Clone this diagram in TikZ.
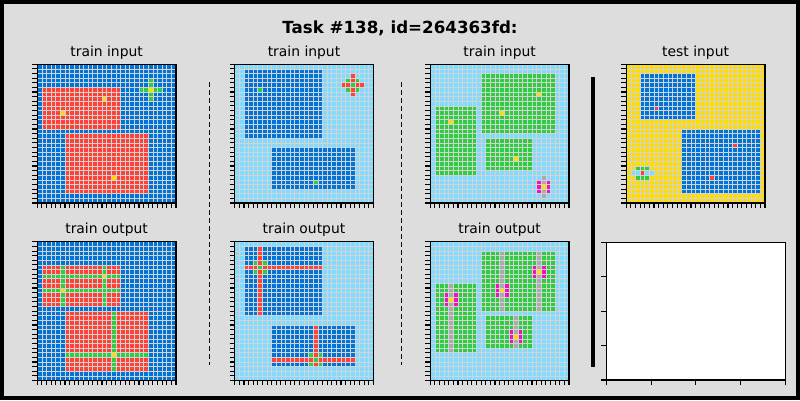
\documentclass[tikz,border=0pt]{standalone}
\usepackage{fontspec}
\setmainfont{DejaVu Sans}
\definecolor{arcblue}{HTML}{0074D9}
\definecolor{arcred}{HTML}{FF4136}
\definecolor{arcgrn}{HTML}{2ECC40}
\definecolor{arcyel}{HTML}{FFDC00}
\definecolor{arcgray}{HTML}{AAAAAA}
\definecolor{arcmag}{HTML}{F012BE}
\definecolor{arcsky}{HTML}{7FDBFF}
\definecolor{figbg}{HTML}{DDDDDD}
\definecolor{gridgrey}{HTML}{D3D3D3}
\tikzset{
  gridln/.style={draw=gridgrey, line width=0.7pt},
  axframe/.style={draw=black, line width=1.1pt},
  tickln/.style={draw=black, line width=1.1pt},
  panel/.style 2 args={shift={(#1,#2)}, x=4.6233pt, y=-4.6233pt},
  ptitle/.style={anchor=base, font=\fontsize{13.89}{16}\selectfont, inner sep=0pt},
  septline/.style={draw=black, line width=1pt, dash pattern=on 5pt off 3pt},
  bigbar/.style={draw=black, line width=4.6pt},
}
\newcommand\cc[3]{\fill[#1] (#2,#3) rectangle ++(1,1);}
\newcommand\bk[5]{\fill[#1] (#2,#3) rectangle (#4+1,#5+1);}
\newcommand\bgfill[1]{\fill[#1] (0,0) rectangle (30,30);}
\newcommand\gridover{%
  \foreach \k in {1,...,29}{\draw[gridln] (\k,0) -- (\k,30); \draw[gridln] (0,\k) -- (30,\k);}
  \draw[axframe] (0,0) rectangle (30,30);
  \foreach \k in {0,...,30}{\draw[tickln] (\k,30) -- ++(0pt,-4.86pt); \draw[tickln] (0,\k) -- ++(-4.86pt,0pt);}
}
\begin{document}
\begin{tikzpicture}[x=1pt, y=-1pt]
\useasboundingbox (0,0) rectangle (800,400);
\fill[figbg] (0,0) rectangle (800,400);
\draw[line width=4pt] (2,2) rectangle (798,398);

\node[anchor=base, font=\bfseries\fontsize{16.67}{20}\selectfont, inner sep=0pt] (title) at (400,33) {Task \#138, id=264363fd:};

% titles
\node[ptitle] (t1) at (106.6,56) {train input};
\node[ptitle] (t2) at (304.0,56) {train input};
\node[ptitle] (t3) at (499.6,56) {train input};
\node[ptitle] (t4) at (695.6,56) {test input};
\node[ptitle] (t5) at (106.6,233.5) {train output};
\node[ptitle] (t6) at (304.0,233.5) {train output};
\node[ptitle] (t7) at (499.6,233.5) {train output};

% separators
\draw[septline] (209,82) -- (209,365);
\draw[septline] (401,82) -- (401,365);
\draw[bigbar] (593,77) -- (593,367);

% ---------- train input 1
\begin{scope}[panel={37.3}{64.3}]
\bgfill{arcblue}
\bk{arcred}{1}{5}{17}{13}
\bk{arcred}{6}{15}{23}{27}
\cc{arcyel}{14}{7} \cc{arcyel}{5}{10} \cc{arcyel}{16}{24}
\bk{arcgrn}{24}{3}{24}{7} \bk{arcgrn}{22}{5}{26}{5} \cc{arcyel}{24}{5}
\gridover
\end{scope}

% ---------- train output 1
\begin{scope}[panel={37.3}{241.8}]
\bgfill{arcblue}
\bk{arcred}{1}{5}{17}{13}
\bk{arcred}{6}{15}{23}{27}
\bk{arcgrn}{14}{5}{14}{13} \bk{arcgrn}{5}{5}{5}{13}
\bk{arcgrn}{1}{7}{17}{7} \bk{arcgrn}{1}{10}{17}{10}
\cc{arcyel}{14}{7} \cc{arcyel}{5}{10}
\bk{arcgrn}{16}{15}{16}{27} \bk{arcgrn}{6}{24}{23}{24}
\cc{arcyel}{16}{24}
\gridover
\end{scope}

% ---------- train input 2
\begin{scope}[panel={234.7}{64.3}]
\bgfill{arcsky}
\bk{arcblue}{2}{1}{18}{15} \bk{arcblue}{8}{18}{25}{26}
\cc{arcgrn}{5}{5} \cc{arcgrn}{17}{25}
\bk{arcred}{25}{2}{25}{6} \bk{arcred}{23}{4}{27}{4}
\cc{arcgrn}{25}{4} \cc{arcgrn}{24}{3} \cc{arcgrn}{26}{3} \cc{arcgrn}{24}{5} \cc{arcgrn}{26}{5}
\gridover
\end{scope}

% ---------- train output 2
\begin{scope}[panel={234.7}{241.8}]
\bgfill{arcsky}
\bk{arcblue}{2}{1}{18}{15} \bk{arcblue}{8}{18}{25}{26}
\bk{arcred}{5}{1}{5}{15} \bk{arcred}{2}{5}{18}{5}
\cc{arcgrn}{5}{5} \cc{arcgrn}{4}{4} \cc{arcgrn}{6}{4} \cc{arcgrn}{4}{6} \cc{arcgrn}{6}{6}
\bk{arcred}{17}{18}{17}{26} \bk{arcred}{8}{25}{25}{25}
\cc{arcgrn}{17}{25} \cc{arcgrn}{16}{24} \cc{arcgrn}{18}{24} \cc{arcgrn}{16}{26} \cc{arcgrn}{18}{26}
\gridover
\end{scope}

% ---------- train input 3
\begin{scope}[panel={430.3}{64.3}]
\bgfill{arcsky}
\bk{arcgrn}{11}{2}{26}{14} \bk{arcgrn}{1}{9}{9}{23} \bk{arcgrn}{12}{16}{21}{22}
\cc{arcyel}{23}{6} \cc{arcyel}{15}{10} \cc{arcyel}{4}{12} \cc{arcyel}{18}{20}
\bk{arcgray}{24}{24}{24}{28} \bk{arcmag}{23}{25}{23}{27} \bk{arcmag}{25}{25}{25}{27}
\cc{arcyel}{24}{26}
\gridover
\end{scope}

% ---------- train output 3
\begin{scope}[panel={430.3}{241.8}]
\bgfill{arcsky}
\bk{arcgrn}{11}{2}{26}{14} \bk{arcgrn}{1}{9}{9}{23} \bk{arcgrn}{12}{16}{21}{22}
\bk{arcgray}{23}{2}{23}{14} \bk{arcmag}{22}{5}{22}{7} \bk{arcmag}{24}{5}{24}{7} \cc{arcyel}{23}{6}
\bk{arcgray}{15}{2}{15}{14} \bk{arcmag}{14}{9}{14}{11} \bk{arcmag}{16}{9}{16}{11} \cc{arcyel}{15}{10}
\bk{arcgray}{4}{9}{4}{23} \bk{arcmag}{3}{11}{3}{13} \bk{arcmag}{5}{11}{5}{13} \cc{arcyel}{4}{12}
\bk{arcgray}{18}{16}{18}{22} \bk{arcmag}{17}{19}{17}{21} \bk{arcmag}{19}{19}{19}{21} \cc{arcyel}{18}{20}
\gridover
\end{scope}

% ---------- test input
\begin{scope}[panel={626.3}{64.3}]
\bgfill{arcyel}
\bk{arcblue}{3}{2}{14}{11} \bk{arcblue}{12}{14}{28}{27}
\cc{arcred}{6}{9} \cc{arcred}{23}{17} \cc{arcred}{18}{24}
\bk{arcgrn}{2}{22}{4}{22} \bk{arcgrn}{2}{24}{4}{24} \bk{arcsky}{1}{23}{5}{23}
\cc{arcred}{3}{23}
\gridover
\end{scope}

% ---------- empty axes
\begin{scope}[shift={(606.3,242.3)}]
\fill[white] (0,0) rectangle (179,137.7);
\draw[axframe] (0,0) rectangle (179,137.7);
\foreach \k in {0,...,4}{
  \draw[tickln] (\k*44.75,137.7) -- ++(0pt,-4.86pt);
  \draw[tickln] (0,\k*34.425) -- ++(-4.86pt,0pt);
}
\end{scope}
\end{tikzpicture}
\end{document}
